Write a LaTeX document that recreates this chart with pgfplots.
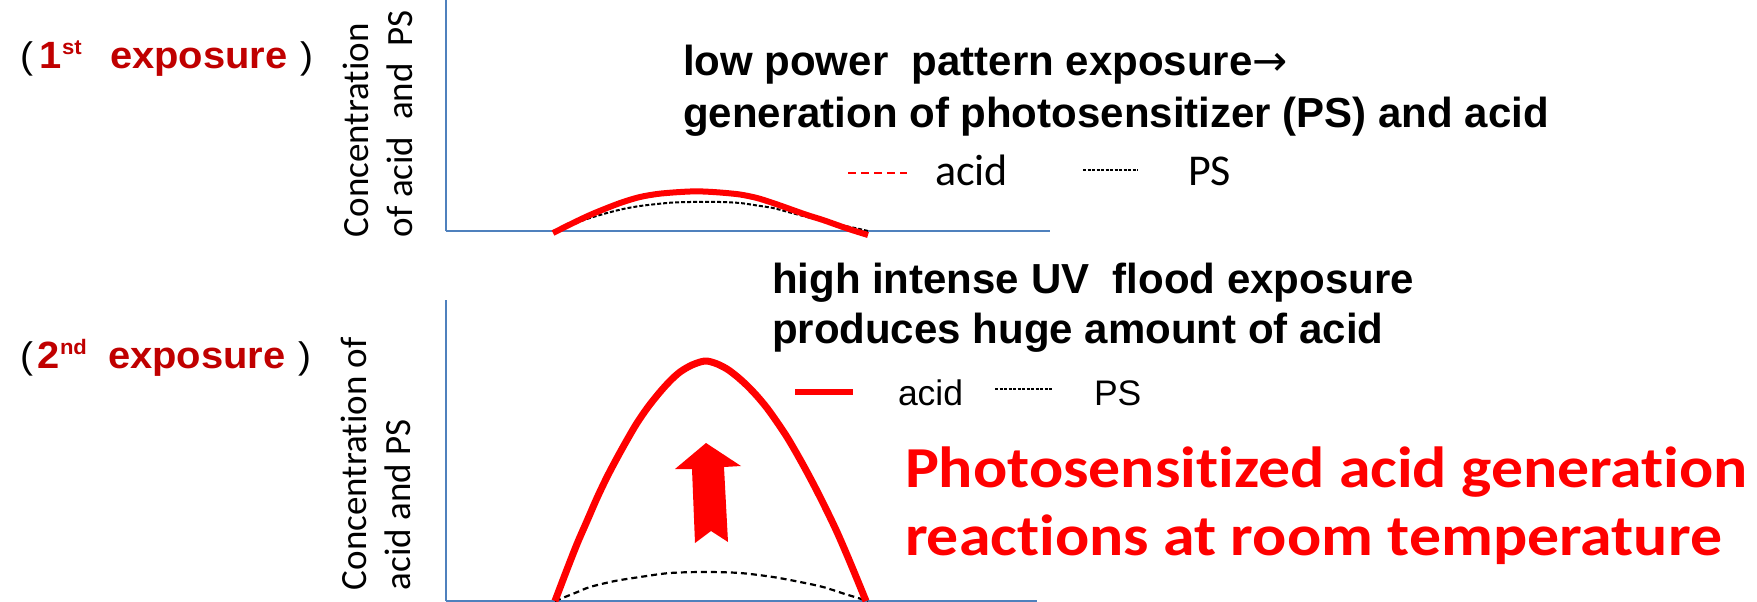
\documentclass[border=0pt]{standalone}
\usepackage{pgfplots}
\pgfplotsset{compat=1.18}
\usepackage{fontspec}
\setmainfont{Liberation Sans}
\newfontfamily\calib{Carlito}[Ligatures=NoCommon]
\newfontfamily\calibwide{Carlito}[FakeStretch=1.1, Ligatures=NoCommon]
\newfontfamily\arialwide{Liberation Sans}[FakeStretch=1.05]
\newfontfamily\dejavu{DejaVu Sans}
\definecolor{axisblue}{HTML}{4F81BD}
\definecolor{darkred}{HTML}{C00000}
\definecolor{pptred}{HTML}{FF0000}
\pgfplotsset{
  panel/.style={
    clip=false, axis lines=left,
    axis line style={draw=axisblue, line width=2pt, -},
    xtick=\empty, ytick=\empty,
    x=1pt, y=1pt,
  }
}
\begin{document}
\begin{tikzpicture}[x=1pt,y=1pt]
\useasboundingbox (0,0) rectangle (1757,-602);

% ---------- top panel ----------
\begin{axis}[panel, xmin=446, xmax=1050, ymin=0, ymax=240,
  at={(446,-231)}, anchor=south west]
\addplot[draw=black, line width=2pt, dash pattern=on 4pt off 2pt, smooth] coordinates {
(553,0) (573,7) (590,13) (607,18) (623,22) (640,25) (657,27) (673,28.5) (690,29)
(703,29) (720,29) (740,28) (757,25.5) (773,23) (790,18.5) (807,14) (823,10)
(840,6) (855,3) (868,0)};
\addplot[draw=pptred, line width=6pt, smooth] coordinates {
(553,-2) (573,8) (590,16) (607,23) (623,29) (640,34) (657,37) (673,38.5) (690,39.5)
(703,39.5) (720,38.5) (740,36.5) (757,33) (773,28) (790,22) (807,16) (823,11)
(840,5) (855,0) (868,-4)};
\end{axis}

% ---------- bottom panel ----------
\begin{axis}[panel, xmin=446, xmax=1037, ymin=0, ymax=301,
  at={(446,-601)}, anchor=south west]
\addplot[draw=black, line width=2.2pt, dash pattern=on 6pt off 4pt, smooth] coordinates {
(555,0) (575,8) (590,14) (615,20) (640,24) (670,28) (705,29) (740,28) (773,24)
(800,19) (823,14) (845,7) (868,0)};
\addplot[draw=pptred, line width=7pt, smooth, line join=round] coordinates {
(555,0) (566,29) (577,57) (587,80) (597,103) (607,124) (617,143) (627,161)
(637,178) (648,194) (660,209) (670,220) (680,229) (692,236) (705,240) (716,237.5)
(727,232) (737,224.5) (747,215.5) (757,205) (767,193) (777,179) (787,164) (797,147)
(807,129) (817,110) (827,90) (837,69) (847,46) (857,22) (866,0)};
\fill[pptred] (axis cs:706,158) -- (axis cs:675,132) -- (axis cs:692,132)
  -- (axis cs:695,58) -- (axis cs:711,70) -- (axis cs:728,59)
  -- (axis cs:724,134) -- (axis cs:741,135) -- cycle;
\end{axis}

% ---------- panel titles ----------
\begin{scope}[every node/.style={anchor=base west, inner sep=0pt, outer sep=0pt}]
\node at (20,-69) {\arialwide\fontsize{37}{42}\selectfont (};
\node at (39,-69) {\arialwide\bfseries\fontsize{38}{42}\selectfont\color{darkred}1};
\node at (62,-55) {\arialwide\bfseries\fontsize{21}{24}\selectfont\color{darkred}st};
\node at (110,-69) {\arialwide\bfseries\fontsize{38}{42}\selectfont\color{darkred}exposure};
\node at (300,-69) {\arialwide\fontsize{37}{42}\selectfont )};

\node at (20,-368) {\arialwide\fontsize{37}{42}\selectfont (};
\node at (37,-368) {\arialwide\bfseries\fontsize{38}{42}\selectfont\color{darkred}2};
\node at (60,-354) {\arialwide\bfseries\fontsize{21}{24}\selectfont\color{darkred}nd};
\node at (108,-368) {\arialwide\bfseries\fontsize{38}{42}\selectfont\color{darkred}exposure};
\node at (298,-368) {\arialwide\fontsize{37}{42}\selectfont )};

% y labels
\node[rotate=90] at (368,-237) {\calib\fontsize{37}{44}\selectfont Concentration};
\node[rotate=90] at (412,-237) {\calib\fontsize{37}{44}\selectfont of acid\ \ and\ \ PS};
\node[rotate=90] at (366,-590) {\calib\fontsize{37}{44}\selectfont Concentration of};
\node[rotate=90] at (410,-590) {\calib\fontsize{37}{44}\selectfont acid and PS};

% headers
\node at (683,-75) {\bfseries\fontsize{42}{50}\selectfont low power\ \ pattern exposure{\dejavu\mdseries →}};
\node at (683,-127) {\bfseries\fontsize{42}{50}\selectfont generation of photosensitizer (PS) and acid};
\node at (772,-293) {\bfseries\fontsize{42}{50}\selectfont high intense UV\ \ flood exposure};
\node at (772,-343) {\bfseries\fontsize{42}{50}\selectfont produces huge amount of acid};

% red statement
\node at (905,-487) {\calibwide\bfseries\fontsize{58}{66}\selectfont\color{pptred}Photosensitized acid generation};
\node at (905,-555) {\calibwide\bfseries\fontsize{58}{66}\selectfont\color{pptred}reactions at room temperature};

% legends
\node at (935,-185) {\calib\fontsize{44}{50}\selectfont acid};
\node at (1188,-185) {\calib\fontsize{44}{50}\selectfont PS};
\node at (898,-405) {\fontsize{35.5}{42}\selectfont acid};
\node at (1094,-405) {\fontsize{35.5}{42}\selectfont PS};
\end{scope}
\draw[pptred, line width=2.5pt, dash pattern=on 8pt off 5pt] (848,-173) -- (907,-173);
\draw[black, line width=1.5pt, dash pattern=on 3pt off 1.5pt] (1083,-170) -- (1138,-170);
\draw[pptred, line width=6pt] (795,-392) -- (853,-392);
\draw[black, line width=1.5pt, dash pattern=on 3pt off 1.5pt] (995,-389) -- (1052,-389);
\end{tikzpicture}
\end{document}
